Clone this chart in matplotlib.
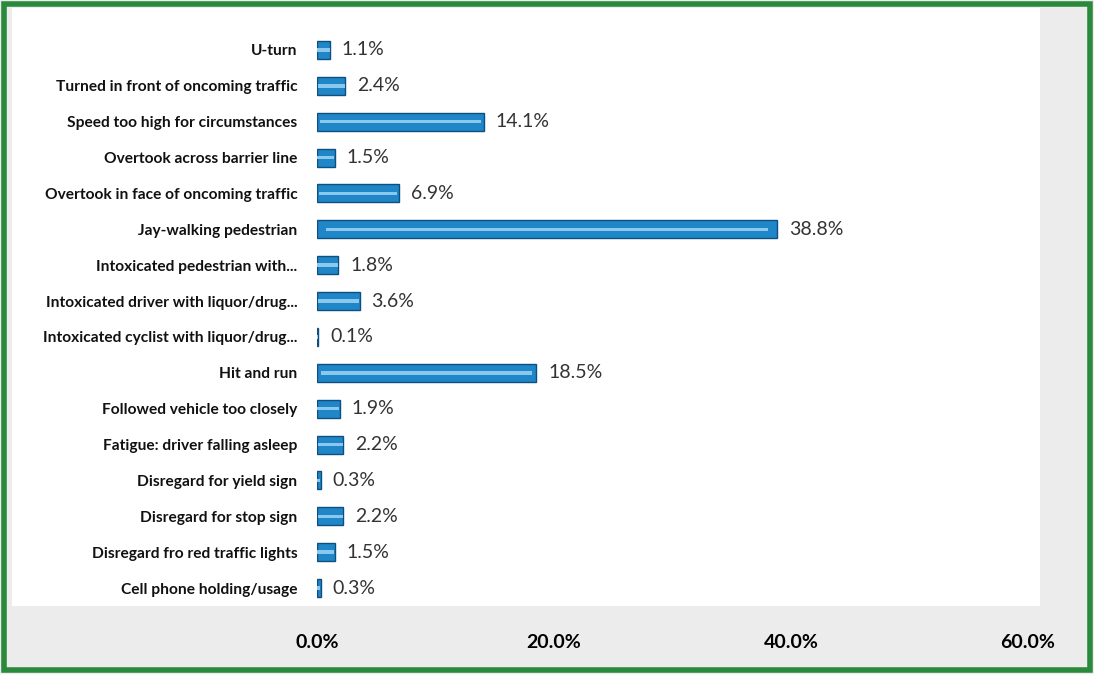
import matplotlib.pyplot as plt
from matplotlib.patches import Rectangle
from matplotlib.ticker import FuncFormatter

categories = [
    'U-turn',
    'Turned in front of oncoming traffic',
    'Speed too high for circumstances',
    'Overtook across barrier line',
    'Overtook in face of oncoming traffic',
    'Jay-walking pedestrian',
    'Intoxicated pedestrian with...',
    'Intoxicated driver with liquor/drug...',
    'Intoxicated cyclist with liquor/drug...',
    'Hit and run',
    'Followed vehicle too closely',
    'Fatigue: driver falling asleep',
    'Disregard for yield sign',
    'Disregard for stop sign',
    'Disregard fro red traffic lights',
    'Cell phone holding/usage',
]
values = [1.1, 2.4, 14.1, 1.5, 6.9, 38.8, 1.8, 3.6, 0.1, 18.5, 1.9, 2.2, 0.3, 2.2, 1.5, 0.3]
x_ticks = [0, 20, 40, 60]

W, H = 1094, 674
fig = plt.figure(figsize=(W / 100, H / 100), dpi=100, facecolor='#ececec')

# white chart area and green frame (scanned look)
fig.patches.append(Rectangle((12 / W, 1 - 606 / H), (1040 - 12) / W, (606 - 8) / H,
                             transform=fig.transFigure, facecolor='white',
                             edgecolor='none', zorder=-1))
fig.patches.append(Rectangle((0.004, 0.006), 0.992, 0.988, transform=fig.transFigure,
                             fill=False, edgecolor='#2a8a3c', linewidth=4, zorder=5))

ax = fig.add_axes([317 / W, 1 - 606 / H, (1028 - 317) / W, (606 - 32) / H])
ax.set_facecolor('none')

y = list(range(len(categories)))
ax.barh(y, values, height=0.5, color='#1f86c8', edgecolor='#0f4f80', linewidth=1.0, zorder=2)
# bevel highlight
ax.barh(y, [v * 0.96 for v in values], left=[v * 0.02 for v in values], height=0.1,
        color='#8cc8ee', edgecolor='none', zorder=3)

for yi, v in zip(y, values):
    ax.text(v + 1.0, yi, f'{v:.1f}%', va='center', ha='left', fontsize=14,
            color='#333333', family='Lato')

ax.set_ylim(len(categories) - 0.5, -0.5)
ax.set_xlim(0, 60)
ax.set_yticks(y)
ax.set_yticklabels(categories, fontsize=11.2, fontweight='bold', family='Lato', color='#111111')
ax.set_xticks(x_ticks)
ax.xaxis.set_major_formatter(FuncFormatter(lambda v, p: f'{v:.1f}%'))
for lbl in ax.get_xticklabels():
    lbl.set_fontweight('bold')
    lbl.set_fontsize(14)
    lbl.set_family('Lato')
ax.tick_params(axis='y', length=0, pad=14)
ax.tick_params(axis='x', length=0, pad=20)
for s in ax.spines.values():
    s.set_visible(False)

fig.savefig('out.png', dpi=100, facecolor=fig.get_facecolor())
